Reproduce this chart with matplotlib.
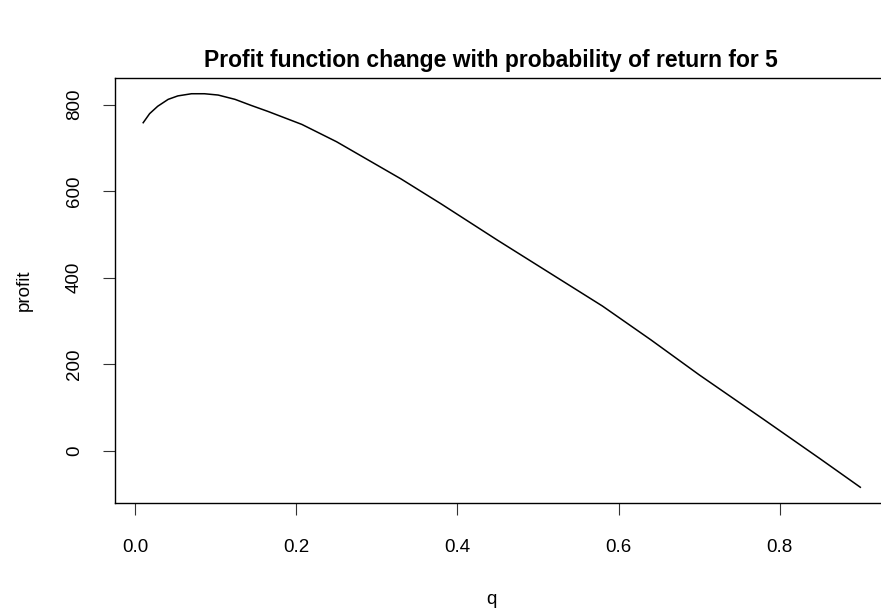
import matplotlib
matplotlib.use("Agg")
import matplotlib.pyplot as plt

plt.rcParams["font.family"] = ["Liberation Sans", "DejaVu Sans"]

# values
q = [0.01, 0.018, 0.028, 0.041, 0.053, 0.07, 0.086, 0.103, 0.124, 0.144,
     0.165, 0.186, 0.207, 0.25, 0.33, 0.38, 0.45, 0.58, 0.64,
     0.70, 0.78, 0.85, 0.90]
profit = [758, 779, 796, 812, 820, 825, 825, 822, 812, 798,
          784, 769, 754, 714, 628, 570, 486, 334, 256,
          175, 72, -19, -85]
xticks = [0.0, 0.2, 0.4, 0.6, 0.8]
yticks = [0, 200, 400, 600, 800]

W, H = 881, 614
fig = plt.figure(figsize=(W / 100, H / 100), dpi=100)
# plot box: left 114.5px, right 889px (cut off by the image edge), top 78px, bottom 503px
ax = fig.add_axes([114.5 / W, (H - 503) / H, (889 - 114.5) / W, (503 - 78) / H])

ax.plot(q, profit, color="black", lw=1.1, solid_joinstyle="round")

# R-style 4% padding of the data range
xr = max(q) - min(q); yr = max(profit) - min(profit)
ax.set_xlim(min(q) - 0.04 * xr, max(q) + 0.04 * xr)
ax.set_ylim(min(profit) - 0.04 * yr, max(profit) + 0.04 * yr)

ax.set_xticks(xticks)
ax.set_xticklabels([f"{v:.1f}" for v in xticks])
ax.set_yticks(yticks)
ax.set_yticklabels([str(v) for v in yticks], rotation=90, va="center")
ax.tick_params(direction="out", length=8.6, width=0.8, labelsize=13.5, color="#333333")
ax.tick_params(axis="x", pad=17)
ax.tick_params(axis="y", pad=14)
for s in ax.spines.values():
    s.set_linewidth(1.0)
ax.spines["right"].set_visible(False)  # off the image in the reference

fig.text(491 / W, 1 - 60 / H, "Profit function change with probability of return for 5",
         ha="center", va="center", fontsize=16.5, fontweight="bold")
fig.text(491 / W, 1 - 600 / H, "q", ha="center", va="center", fontsize=13.5)
fig.text(24 / W, 1 - 290 / H, "profit", ha="center", va="center", rotation=90, fontsize=13.5)

fig.savefig("out.png", dpi=100)
